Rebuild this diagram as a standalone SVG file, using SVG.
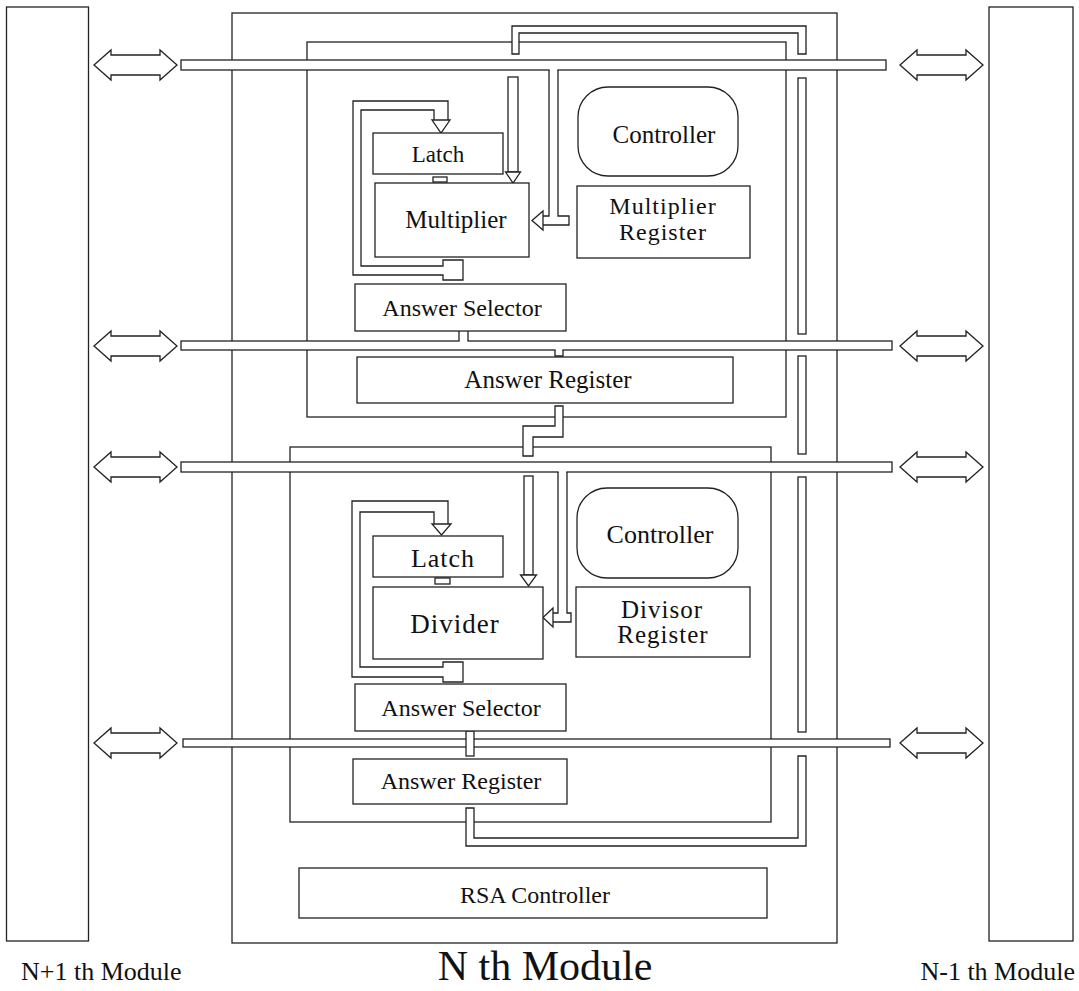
<svg xmlns="http://www.w3.org/2000/svg" width="1079" height="991" viewBox="0 0 1079 991">
<style>
.ln{fill:none;stroke:#222;stroke-width:1.3}
.bx{fill:#fff;stroke:#222;stroke-width:1.3}
.wf{fill:#fff;stroke:none}
.t{font-family:"Liberation Serif","Times New Roman",serif;fill:#111;text-anchor:middle}
</style>
<defs>
<path id="dbl" class="bx" d="M0,0 L17,-15 V-10 H66 V-15 L83,0 L66,15 V10 H17 V15 Z"/>
</defs>
<rect width="1079" height="991" fill="#fff"/>

<g id="module-n-plus-1"><rect class="ln" x="6.5" y="7" width="82" height="934"/></g>
<g id="module-n-minus-1"><rect class="ln" x="989" y="7" width="84" height="934"/></g>
<g id="module-n"><rect class="ln" x="232" y="13" width="605" height="930"/></g>
<g id="multiplier-unit"><rect class="ln" x="307" y="42" width="479" height="375"/></g>
<g id="divider-unit"><rect class="ln" x="290" y="447" width="481" height="375"/></g>

<g id="connectors">
  <rect class="bx" x="181" y="60" width="705" height="10"/>
  <rect class="bx" x="181" y="341" width="711" height="9"/>
  <rect class="bx" x="181" y="462" width="711" height="10"/>
  <rect class="bx" x="183" y="739" width="707" height="8"/>
  <use href="#dbl" transform="translate(94,65)"/>
  <use href="#dbl" transform="translate(94,346)"/>
  <use href="#dbl" transform="translate(94,467)"/>
  <use href="#dbl" transform="translate(94,743)"/>
  <use href="#dbl" transform="translate(900,65)"/>
  <use href="#dbl" transform="translate(900,346)"/>
  <use href="#dbl" transform="translate(900,467)"/>
  <use href="#dbl" transform="translate(900,743)"/>

  <path class="bx" d="M512,54 V26 H806 V54 H798 V33 H519 V54 Z"/>
  <rect class="bx" x="798" y="78" width="8" height="256"/>
  <rect class="bx" x="798" y="356" width="8" height="98"/>
  <rect class="bx" x="798" y="477" width="8" height="255"/>
  <path class="bx" d="M798,756 H806 V846 H466 V808 H474 V838 H798 Z"/>

  <rect class="bx" x="508" y="77" width="10" height="95"/>
  <path class="bx" d="M505.5,172 H520.5 L513,183 Z"/>
  <path class="wf" d="M549.7,68 H557.3 V216 H569 V225 H543 V216 H549.7 Z"/>
  <path class="ln" d="M549,70 V216 H543 M543,225 H569 V216 H558 V70"/>
  <path class="bx" d="M543,211 V230 L532,220.5 Z"/>
  <path class="bx" d="M448,120 V101 H353 V275 H443 V280 H463 V260 H443 V266 H361 V110 H434 V120"/>
  <path class="bx" d="M432,120 H450 L441,133 Z"/>
  <rect class="bx" x="433" y="177" width="14" height="5"/>
  <rect class="wf" x="459.6" y="330" width="7.8" height="12.5"/>
  <path class="ln" d="M459,331 V341 M468,331 V341"/>
  <rect class="wf" x="555.6" y="348.5" width="6.8" height="7.5"/>
  <path class="ln" d="M555,350 V356 H563 V350"/>
  <path class="bx" d="M555,406 H563 V437 H533 V456 H523 V426 H555 Z"/>

  <rect class="bx" x="524" y="476" width="9" height="99"/>
  <path class="bx" d="M520.5,575 H536.5 L528.5,586 Z"/>
  <path class="wf" d="M558.7,470 H566.3 V613 H571 V622 H553 V613 H558.7 Z"/>
  <path class="ln" d="M558,472 V613 H553 M553,622 H571 V613 H567 V472"/>
  <path class="bx" d="M553,608 V627 L543,617.5 Z"/>
  <path class="bx" d="M448,524 V501 H352 V677 H443 V682 H463 V662 H443 V667 H360 V512 H434 V524"/>
  <path class="bx" d="M432,524 H451 L441.5,535 Z"/>
  <rect class="bx" x="435" y="578" width="15" height="6"/>
  <rect class="bx" x="466" y="731" width="8" height="25"/>
</g>

<g id="controller-1"><rect class="bx" x="578" y="87" width="160" height="89" rx="30"/><text class="t" x="664" y="143" font-size="25">Controller</text></g>
<g id="multiplier-register"><rect class="bx" x="577" y="186" width="173" height="72"/><text class="t" x="663" y="214" font-size="24" letter-spacing="1">Multiplier</text><text class="t" x="663" y="240" font-size="24" letter-spacing="1">Register</text></g>
<g id="latch-1"><rect class="bx" x="373" y="133" width="130" height="41"/><text class="t" x="438" y="162" font-size="23">Latch</text></g>
<g id="multiplier"><rect class="bx" x="375" y="183" width="154" height="74"/><text class="t" x="456" y="228" font-size="25">Multiplier</text></g>
<g id="answer-selector-1"><rect class="bx" x="355" y="284" width="211" height="47"/><text class="t" x="462" y="316" font-size="24">Answer Selector</text></g>
<g id="answer-register-1"><rect class="bx" x="357" y="357" width="376" height="46"/><text class="t" x="548" y="388" font-size="25">Answer Register</text></g>

<g id="controller-2"><rect class="bx" x="577" y="488" width="161" height="90" rx="30"/><text class="t" x="660" y="543" font-size="26">Controller</text></g>
<g id="divisor-register"><rect class="bx" x="576" y="587" width="174" height="70"/><text class="t" x="662" y="618" font-size="25" letter-spacing="1">Divisor</text><text class="t" x="663" y="643" font-size="25" letter-spacing="1">Register</text></g>
<g id="latch-2"><rect class="bx" x="373" y="536" width="130" height="41"/><text class="t" x="443" y="567" font-size="26" letter-spacing="1">Latch</text></g>
<g id="divider"><rect class="bx" x="373" y="587" width="170" height="72"/><text class="t" x="455" y="633" font-size="27" letter-spacing="1">Divider</text></g>
<g id="answer-selector-2"><rect class="bx" x="355" y="684" width="211" height="47"/><text class="t" x="461" y="716" font-size="24">Answer Selector</text></g>
<g id="answer-register-2"><rect class="bx" x="353" y="759" width="214" height="45"/><text class="t" x="461" y="789" font-size="24">Answer Register</text></g>

<g id="rsa-controller"><rect class="bx" x="299" y="868" width="468" height="50"/><text class="t" x="535" y="903" font-size="24">RSA Controller</text></g>

<g id="labels">
<text class="t" x="21" y="980" font-size="26" style="text-anchor:start">N+1 th Module</text>
<text class="t" x="545" y="980" font-size="42">N th Module</text>
<text class="t" x="1075" y="980" font-size="26" style="text-anchor:end">N-1 th Module</text>
</g>
</svg>
